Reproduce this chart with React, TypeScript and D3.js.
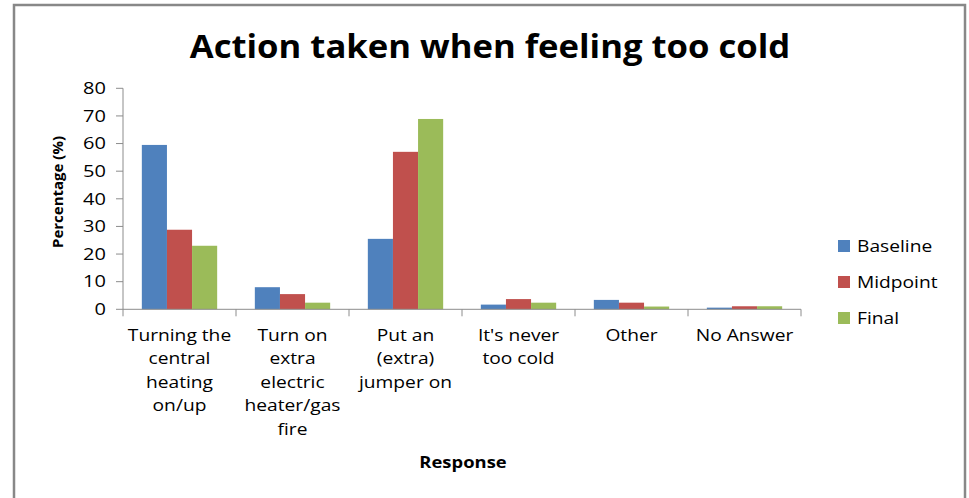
import React from 'react';
import * as d3 from 'd3';

const categories = [
  'Turning the central heating on/up',
  'Turn on extra electric heater/gas fire',
  'Put an (extra) jumper on',
  "It's never too cold",
  'Other',
  'No Answer',
];
// how the category names wrap under the axis
const categoryLines = [
  ['Turning the', 'central', 'heating', 'on/up'],
  ['Turn on', 'extra', 'electric', 'heater/gas', 'fire'],
  ['Put an', '(extra)', 'jumper on'],
  ["It's never", 'too cold'],
  ['Other'],
  ['No Answer'],
];
const seriesNames = ['Baseline', 'Midpoint', 'Final'];
const baseline = [59.5, 8, 25.5, 1.7, 3.4, 0.6];
const midpoint = [28.8, 5.5, 57, 3.7, 2.4, 1.1];
const finalVals = [23, 2.4, 68.9, 2.4, 1.0, 1.1];
const yTicks = [0, 10, 20, 30, 40, 50, 60, 70, 80];

const colors = ['#4F81BD', '#C0504D', '#9BBB59'];
const W = 969;
const H = 498;
const FONT = '"Open Sans", "Noto Sans", sans-serif';
const SX = 1.2; // the source chart is stretched sideways

const App: React.FC = () => {
  const series = [baseline, midpoint, finalVals];
  const margin = { left: 123, right: 801, top: 88.3, bottom: 309.3 };

  const x0 = d3.scaleBand<string>().domain(categories).range([margin.left, margin.right]).padding(0);
  const x1 = d3.scaleBand<string>()
    .domain(seriesNames)
    .range([0, x0.bandwidth()])
    .paddingInner(0)
    .paddingOuter(0.75);
  const y = d3.scaleLinear().domain([0, 80]).range([margin.bottom, margin.top]);

  const grey = '#8c8c8c';

  return (
    <svg width={W} height={H} style={{ position: 'absolute', left: 0, top: 0, background: '#fff' }}>
      <rect x={14} y={5} width={951} height={520} fill="#fff" stroke="#888" strokeWidth={2.5} />

      <text
        transform="translate(490,58) scale(1.05,1)"
        textAnchor="middle"
        fontFamily={FONT}
        fontWeight="bold"
        fontSize={33}
        fill="#000"
      >
        Action taken when feeling too cold
      </text>

      {/* y axis */}
      <line x1={margin.left} x2={margin.left} y1={margin.top} y2={margin.bottom} stroke={grey} />
      {yTicks.map(t => (
        <g key={t}>
          <line x1={margin.left - 7} x2={margin.left} y1={y(t)} y2={y(t)} stroke={grey} />
          <text
            transform={`translate(106,${y(t)}) scale(1.25,1)`}
            dy="0.36em"
            textAnchor="end"
            fontFamily={FONT}
            fontSize={16}
            fill="#000"
          >
            {t}
          </text>
        </g>
      ))}
      <text
        transform={`translate(63,192) rotate(-90)`}
        textAnchor="middle"
        fontFamily={FONT}
        fontWeight="bold"
        fontSize={15}
      >
        Percentage (%)
      </text>

      {/* bars */}
      {categories.map((c, i) => (
        <g key={c} transform={`translate(${x0(c)},0)`}>
          {seriesNames.map((s, j) => (
            <rect
              key={s}
              x={x1(s)}
              y={y(series[j][i])}
              width={x1.bandwidth()}
              height={y(0) - y(series[j][i])}
              fill={colors[j]}
            />
          ))}
        </g>
      ))}

      {/* x axis */}
      <line x1={margin.left} x2={margin.right} y1={margin.bottom} y2={margin.bottom} stroke={grey} />
      {[...categories.map(c => x0(c) as number), margin.right].map((v, i) => (
        <line key={i} x1={v} x2={v} y1={margin.bottom} y2={margin.bottom + 7} stroke={grey} />
      ))}
      {categories.map((c, i) => (
        <text
          key={c}
          transform={`translate(${(x0(c) as number) + x0.bandwidth() / 2},341) scale(${SX},1)`}
          textAnchor="middle"
          fontFamily={FONT}
          fontSize={16}
          fill="#000"
        >
          {categoryLines[i].map((l, k) => (
            <tspan key={k} x={0} dy={k === 0 ? 0 : 23.5}>
              {l}
            </tspan>
          ))}
        </text>
      ))}
      <text
        transform="translate(463,468) scale(1.15,1)"
        textAnchor="middle"
        fontFamily={FONT}
        fontWeight="bold"
        fontSize={16}
      >
        Response
      </text>

      {/* legend */}
      {seriesNames.map((s, j) => (
        <g key={s} transform={`translate(838,${246 + j * 36})`}>
          <rect x={0} y={-6} width={12} height={12} fill={colors[j]} />
          <text transform={`translate(19,0) scale(${SX},1)`} dy="0.36em" fontFamily={FONT} fontSize={16} fill="#000">
            {s}
          </text>
        </g>
      ))}
    </svg>
  );
};

export default App;
